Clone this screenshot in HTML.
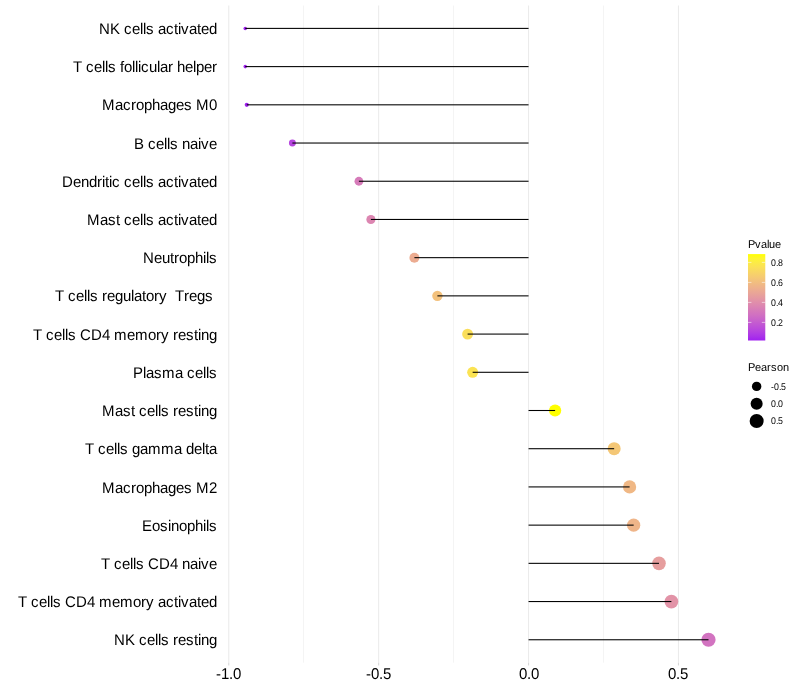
<!DOCTYPE html>
<html lang="en"><head><meta charset="utf-8"><title>Pearson correlation lollipop chart</title>
<style>html,body{margin:0;padding:0;background:#fff}body{width:800px;height:700px;overflow:hidden}</style></head>
<body>
<svg width="800" height="700" viewBox="0 0 800 700" style="display:block;will-change:transform;font-family:'Liberation Sans',sans-serif">
<rect width="800" height="700" fill="#ffffff"/>
<rect x="303.435" y="5.47" width="0.53" height="657.23" fill="#EBEBEB"/>
<rect x="453.335" y="5.47" width="0.53" height="657.23" fill="#EBEBEB"/>
<rect x="603.235" y="5.47" width="0.53" height="657.23" fill="#EBEBEB"/>
<rect x="228.215" y="5.47" width="1.07" height="657.23" fill="#EBEBEB"/>
<rect x="378.115" y="5.47" width="1.07" height="657.23" fill="#EBEBEB"/>
<rect x="528.015" y="5.47" width="1.07" height="657.23" fill="#EBEBEB"/>
<rect x="677.915" y="5.47" width="1.07" height="657.23" fill="#EBEBEB"/>
<rect x="228.215" y="662.70" width="1.07" height="2.75" fill="#D9D9D9"/>
<rect x="378.115" y="662.70" width="1.07" height="2.75" fill="#D9D9D9"/>
<rect x="528.015" y="662.70" width="1.07" height="2.75" fill="#D9D9D9"/>
<rect x="677.915" y="662.70" width="1.07" height="2.75" fill="#D9D9D9"/>
<circle cx="245.25" cy="28.40" r="1.77" fill="#A020F0"/>
<circle cx="245.25" cy="66.61" r="1.77" fill="#A020F0"/>
<circle cx="246.75" cy="104.82" r="2.07" fill="#A121F0"/>
<circle cx="292.40" cy="143.03" r="3.47" fill="#B645DF"/>
<circle cx="358.90" cy="181.24" r="4.40" fill="#D67BB9"/>
<circle cx="370.90" cy="219.45" r="4.54" fill="#DC86B1"/>
<circle cx="414.40" cy="257.66" r="4.98" fill="#ECAC91"/>
<circle cx="437.40" cy="295.87" r="5.19" fill="#F3C17C"/>
<circle cx="467.60" cy="334.08" r="5.45" fill="#FADE5A"/>
<circle cx="472.65" cy="372.29" r="5.49" fill="#FBE353"/>
<circle cx="555.10" cy="410.50" r="6.12" fill="#FFFF00"/>
<circle cx="614.15" cy="448.71" r="6.51" fill="#F4C776"/>
<circle cx="629.60" cy="486.92" r="6.61" fill="#F0B885"/>
<circle cx="633.65" cy="525.13" r="6.64" fill="#EFB589"/>
<circle cx="659.00" cy="563.34" r="6.79" fill="#E69E9E"/>
<circle cx="671.40" cy="601.55" r="6.87" fill="#E293A7"/>
<circle cx="708.50" cy="639.76" r="7.09" fill="#D273C0"/>
<rect x="245.25" y="27.865" width="283.30" height="1.07" fill="#000000"/>
<rect x="245.25" y="66.075" width="283.30" height="1.07" fill="#000000"/>
<rect x="246.75" y="104.285" width="281.80" height="1.07" fill="#000000"/>
<rect x="292.40" y="142.495" width="236.15" height="1.07" fill="#000000"/>
<rect x="358.90" y="180.705" width="169.65" height="1.07" fill="#000000"/>
<rect x="370.90" y="218.915" width="157.65" height="1.07" fill="#000000"/>
<rect x="414.40" y="257.125" width="114.15" height="1.07" fill="#000000"/>
<rect x="437.40" y="295.335" width="91.15" height="1.07" fill="#000000"/>
<rect x="467.60" y="333.545" width="60.95" height="1.07" fill="#000000"/>
<rect x="472.65" y="371.755" width="55.90" height="1.07" fill="#000000"/>
<rect x="528.55" y="409.965" width="26.55" height="1.07" fill="#000000"/>
<rect x="528.55" y="448.175" width="85.60" height="1.07" fill="#000000"/>
<rect x="528.55" y="486.385" width="101.05" height="1.07" fill="#000000"/>
<rect x="528.55" y="524.595" width="105.10" height="1.07" fill="#000000"/>
<rect x="528.55" y="562.805" width="130.45" height="1.07" fill="#000000"/>
<rect x="528.55" y="601.015" width="142.85" height="1.07" fill="#000000"/>
<rect x="528.55" y="639.225" width="179.95" height="1.07" fill="#000000"/>
<g font-size="15" fill="#000000" text-rendering="geometricPrecision">
<text xml:space="preserve" transform="translate(0 34) scale(1 1.025)" x="99 110 120 124 132 140 143 146 154 158 166 174 178 181 189 197 201 209" y="0">NK cells activated</text>
<text xml:space="preserve" transform="translate(0 72) scale(1 1.025)" x="73 82 86 94 102 105 108 116 120 124 132 135 138 141 149 157 160 168 173 177 185 193 196 204 212" y="0">T cells follicular helper</text>
<text xml:space="preserve" transform="translate(0 110) scale(1 1.025)" x="102 115 123 131 136 144 152 160 168 176 184 192 196 209" y="0">Macrophages M0</text>
<text xml:space="preserve" transform="translate(0 149) scale(1 1.025)" x="134 144 148 156 164 167 170 178 182 190 198 201 209" y="0">B cells naive</text>
<text xml:space="preserve" transform="translate(0 187) scale(1 1.025)" x="62 73 81 89 97 102 105 109 112 120 124 132 140 143 146 154 158 166 174 178 181 189 197 201 209" y="0">Dendritic cells activated</text>
<text xml:space="preserve" transform="translate(0 225) scale(1 1.025)" x="87 100 108 116 120 124 132 140 143 146 154 158 166 174 178 181 189 197 201 209" y="0">Mast cells activated</text>
<text xml:space="preserve" transform="translate(0 263) scale(1 1.025)" x="143 154 162 170 174 179 187 195 203 206 209" y="0">Neutrophils</text>
<text xml:space="preserve" transform="translate(0 301) scale(1 1.025)" x="55 64 68 76 84 87 90 98 102 107 115 123 131 134 142 146 154 159 167 171 175 184 189 197 205 213" y="0">T cells regulatory  Tregs </text>
<text xml:space="preserve" transform="translate(0 340) scale(1 1.025)" x="33 42 46 54 62 65 68 76 80 91 102 110 114 127 135 148 156 161 169 173 178 186 194 198 201 209" y="0">T cells CD4 memory resting</text>
<text xml:space="preserve" transform="translate(0 378) scale(1 1.025)" x="133 143 146 154 162 175 183 187 195 203 206 209" y="0">Plasma cells</text>
<text xml:space="preserve" transform="translate(0 416) scale(1 1.025)" x="102 115 123 131 135 139 147 155 158 161 169 173 178 186 194 198 201 209" y="0">Mast cells resting</text>
<text xml:space="preserve" transform="translate(0 454) scale(1 1.025)" x="85 94 98 106 114 117 120 128 132 140 148 161 174 182 186 194 202 205 209" y="0">T cells gamma delta</text>
<text xml:space="preserve" transform="translate(0 493) scale(1 1.025)" x="102 115 123 131 136 144 152 160 168 176 184 192 196 209" y="0">Macrophages M2</text>
<text xml:space="preserve" transform="translate(0 531) scale(1 1.025)" x="142 152 160 168 171 179 187 195 203 206 209" y="0">Eosinophils</text>
<text xml:space="preserve" transform="translate(0 569) scale(1 1.025)" x="101 110 114 122 130 133 136 144 148 159 170 178 182 190 198 201 209" y="0">T cells CD4 naive</text>
<text xml:space="preserve" transform="translate(0 607) scale(1 1.025)" x="18 27 31 39 47 50 53 61 65 76 87 95 99 112 120 133 141 146 154 158 166 174 178 181 189 197 201 209" y="0">T cells CD4 memory activated</text>
<text xml:space="preserve" transform="translate(0 645) scale(1 1.025)" x="114 125 135 139 147 155 158 161 169 173 178 186 194 198 201 209" y="0">NK cells resting</text>
</g>
<g font-size="15" fill="#000000" text-rendering="geometricPrecision">
<text xml:space="preserve" transform="translate(0 679) scale(1 1.04)" x="216 221 229 233" y="0">-1.0</text>
<text xml:space="preserve" transform="translate(0 679) scale(1 1.04)" x="366 371 379 383" y="0">-0.5</text>
<text xml:space="preserve" transform="translate(0 679) scale(1 1.04)" x="519 527 531" y="0">0.0</text>
<text xml:space="preserve" transform="translate(0 679) scale(1 1.04)" x="668 676 680" y="0">0.5</text>
</g>
<defs><linearGradient id="cb" x1="0" y1="1" x2="0" y2="0">
<stop offset="0%" stop-color="#A020F0"/>
<stop offset="5%" stop-color="#AA33E8"/>
<stop offset="10%" stop-color="#B441E1"/>
<stop offset="15%" stop-color="#BC4ED9"/>
<stop offset="20%" stop-color="#C35AD1"/>
<stop offset="25%" stop-color="#CA66C9"/>
<stop offset="30%" stop-color="#D171C1"/>
<stop offset="35%" stop-color="#D67BB9"/>
<stop offset="40%" stop-color="#DC86B1"/>
<stop offset="45%" stop-color="#E190A9"/>
<stop offset="50%" stop-color="#E59BA0"/>
<stop offset="55%" stop-color="#E9A597"/>
<stop offset="60%" stop-color="#EDAF8E"/>
<stop offset="65%" stop-color="#F0B984"/>
<stop offset="70%" stop-color="#F3C37A"/>
<stop offset="75%" stop-color="#F6CD6F"/>
<stop offset="80%" stop-color="#F8D763"/>
<stop offset="85%" stop-color="#FBE156"/>
<stop offset="90%" stop-color="#FCEB46"/>
<stop offset="95%" stop-color="#FEF530"/>
<stop offset="100%" stop-color="#FFFF00"/>
</linearGradient></defs>
<g font-size="11" fill="#000" text-rendering="geometricPrecision"><text xml:space="preserve" transform="translate(0 248) scale(1 1.03)" x="748 755 761 767 769 775" y="0">Pvalue</text></g>
<rect x="748.0" y="254.1" width="17.28" height="86.40" fill="url(#cb)"/>
<g stroke="#ffffff" stroke-width="0.55">
<line x1="748.0" x2="751.46" y1="322.40" y2="322.40"/>
<line x1="761.82" x2="765.28" y1="322.40" y2="322.40"/>
<line x1="748.0" x2="751.46" y1="302.40" y2="302.40"/>
<line x1="761.82" x2="765.28" y1="302.40" y2="302.40"/>
<line x1="748.0" x2="751.46" y1="282.40" y2="282.40"/>
<line x1="761.82" x2="765.28" y1="282.40" y2="282.40"/>
<line x1="748.0" x2="751.46" y1="262.40" y2="262.40"/>
<line x1="761.82" x2="765.28" y1="262.40" y2="262.40"/>
</g>
<g font-size="8.8" fill="#000" text-rendering="geometricPrecision">
<text xml:space="preserve" transform="translate(0 326) scale(1 1.11)" x="771 776 778" y="0">0.2</text>
<text xml:space="preserve" transform="translate(0 306) scale(1 1.11)" x="771 776 778" y="0">0.4</text>
<text xml:space="preserve" transform="translate(0 286) scale(1 1.11)" x="771 776 778" y="0">0.6</text>
<text xml:space="preserve" transform="translate(0 266) scale(1 1.11)" x="771 776 778" y="0">0.8</text>
</g>
<g font-size="11" fill="#000" text-rendering="geometricPrecision"><text xml:space="preserve" transform="translate(0 371) scale(1 1.03)" x="748 755 761 767 771 777 783" y="0">Pearson</text></g>
<g font-size="8.8" fill="#000" text-rendering="geometricPrecision">
<circle cx="756.64" cy="386.40" r="4.72" fill="#000"/>
<text xml:space="preserve" transform="translate(0 390) scale(1 1.11)" x="771 774 779 781" y="0">-0.5</text>
<circle cx="756.64" cy="403.68" r="6.03" fill="#000"/>
<text xml:space="preserve" transform="translate(0 407) scale(1 1.11)" x="771 776 778" y="0">0.0</text>
<circle cx="756.64" cy="420.96" r="7.01" fill="#000"/>
<text xml:space="preserve" transform="translate(0 424) scale(1 1.11)" x="771 776 778" y="0">0.5</text>
</g>
</svg>
</body></html>
